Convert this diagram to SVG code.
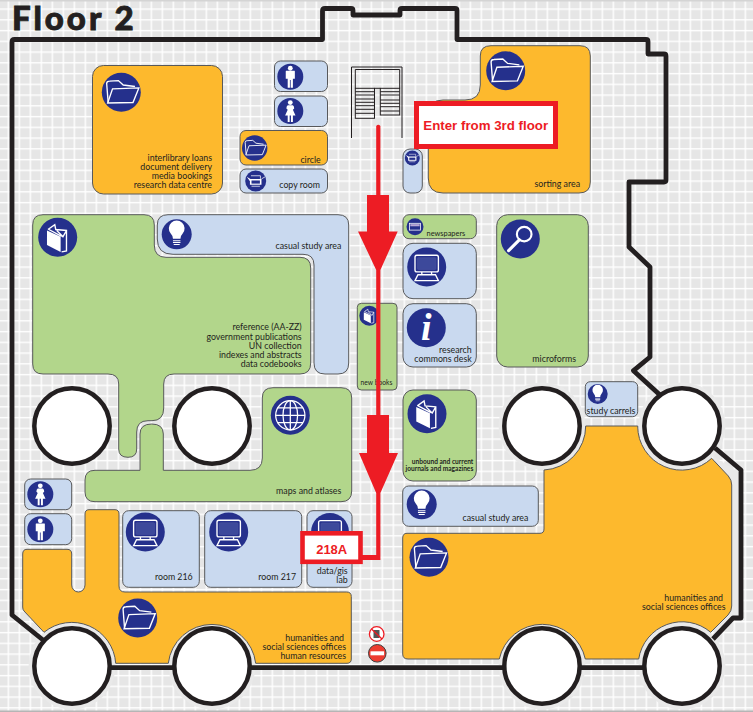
<svg xmlns="http://www.w3.org/2000/svg" width="753" height="712" viewBox="0 0 753 712">
<style>
text{font-family:"Lato","Liberation Sans",sans-serif;fill:#231f20;text-anchor:end;font-size:8.8px}
.o{fill:#fdb92d;stroke:#58595b;stroke-width:1}
.b{fill:#c9d9ef;stroke:#58595b;stroke-width:1}
.g{fill:#b2d68b;stroke:#58595b;stroke-width:1}
.wall{fill:none;stroke:#231f20;stroke-width:4.8;stroke-linejoin:round}
.col{fill:#fff;stroke:#231f20;stroke-width:4.5}
.halo{fill:#e9e9e9}
.st{fill:none;stroke:#231f20;stroke-width:1}
.red{fill:#ed1c24}
.redbox{fill:#fff;stroke:#ed1c24}
.rt{font-family:"Liberation Sans",Arial,sans-serif;font-weight:700;fill:#ed1c24;text-anchor:middle}
.iw{fill:#fff;stroke:none}
.il{fill:none;stroke:#fff;stroke-width:1.4}
</style>
<defs>
<pattern id="grid" width="11" height="10.75" patternUnits="userSpaceOnUse" x="7.6" y="8.4">
<rect width="11" height="10.75" fill="#e6e6e6"/>
<rect width="1.4" height="10.75" fill="#fff"/>
<rect width="11" height="1.4" fill="#fff"/>
</pattern>
<g id="i-folder"><circle r="20" fill="#25308c"/><path class="il" d="M-13.5,10 L-15,-9 Q-15,-11.5 -12,-11.5 L-3,-12 L2,-7.5 L14,-6"/><path class="il" d="M-9,-3.5 L18,-4.5 L12,10.5 L-14,11 Z"/></g>
<g id="i-man"><circle r="20" fill="#25308c"/><circle class="iw" cy="-13" r="3.7"/><path class="iw" d="M-6.5,-9 H6.500 Q7,-9 7,-8 V3 H4 V17 H0.600 V5 H-0.600 V17 H-4 V3 H-7 V-8 Q-7,-9 -6.500,-9 Z"/></g>
<g id="i-woman"><circle r="20" fill="#25308c"/><circle class="iw" cy="-13" r="3.7"/><path class="iw" d="M-4,-9 H4 Q6,-8 6,-4 L4,-2 L8,7 H4 V17 H1 V7 H-1 V17 H-4 V7 H-8 L-4,-2 L-6,-4 Q-6,-8 -4,-9 Z"/></g>
<g id="i-book"><circle r="20" fill="#25308c"/><path class="iw" d="M-11,-7 L3,-0.500 V15 L-11,8 Z"/><path class="il" d="M-10,-8 L-3,-13 L-2,-8 L9,-7 V14 L4,15 M4,-1 L-9,-8 M5,0 L9,-7 M-1,-7 L5,-1"/></g>
<g id="i-bulb"><circle r="20" fill="#25308c"/><path class="iw" d="M-5,6 Q-5,2 -8,-1 A10.500,10.500 0 1 1 8,-1 Q5,2 5,6 Z"/><path class="il" d="M-5,8.500 H5 M-5,11 H5 M-4,13.500 H4"/></g>
<g id="i-comp"><circle r="20" fill="#25308c"/><rect x="-12" y="-12" width="24" height="17" rx="2" fill="#25308c" stroke="#fff" stroke-width="1.400"/><rect x="-9.500" y="-9.500" width="19" height="12" rx="1" fill="#c9d9ef" opacity=".15" stroke="#fff" stroke-width=".7"/><path class="il" d="M-5,5 V8 M5,5 V8 M-9,8 H9 L12,14 H-12 Z"/></g>
<g id="i-mag"><circle r="20" fill="#25308c"/><circle cx="4" cy="-5" r="7.500" fill="none" stroke="#fff" stroke-width="2.200"/><path d="M-1,1 L-12,12" stroke="#fff" stroke-width="3.200" stroke-linecap="round"/></g>
<g id="i-globe"><circle r="20" fill="#25308c"/><g fill="none" stroke="#fff" stroke-width="1.300"><circle r="15"/><ellipse rx="7.500" ry="15"/><path d="M0,-15 V15 M-15,0 H15 M-13,-7.500 H13 M-13,7.500 H13"/></g></g>
<g id="i-copy"><circle r="20" fill="#25308c"/><path class="iw" d="M-11,-4 H11 V7 H-11 Z M-17,-8 L-10,-4 V2 Z"/><path d="M-8,-1 H8 V5 H-8 Z" fill="#25308c"/><path class="il" d="M-9,-10 H9 V-4 M11,-4 L18,-8 M-8,10 H8"/></g>
<g id="i-news"><circle r="20" fill="#25308c"/><rect x="-13" y="-8" width="26" height="16" fill="#25308c" stroke="#fff" stroke-width="1.800"/><rect x="-11" y="-6" width="22" height="5" fill="#b9a9d6"/></g>
</defs>

<rect width="753" height="712" fill="url(#grid)"/>
<rect width="753" height="1.500" fill="#d4d4d4"/>
<rect y="710.500" width="753" height="1.500" fill="#b5b5b5"/>

<g id="floor-halos">
<circle class="halo" cx="72" cy="666" r="43.500"/>
<circle class="halo" cx="212" cy="666" r="43.500"/>
<circle class="halo" cx="542" cy="426" r="43.500"/>
<circle class="halo" cx="682" cy="426" r="43.500"/>
<circle class="halo" cx="542" cy="666" r="43.500"/>
<circle class="halo" cx="682" cy="666" r="43.500"/>
<path class="halo" d="M712,456 L739,472 V616 L712,636 L728,610 V480 Z"/>
</g>

<g id="walls">
<path class="wall" d="M43,640 L12,615 V42 Q12,39.500 14.500,39.500 H322.500 V11 Q322.500,8.500 325,8.500 H351 Q353,8.500 353,10.500 V15 H400 V10.500 Q400,8.500 402,8.500 H455 Q457,8.500 457,10.500 V39.500 H646 Q648,39.500 648,41.500 V54 H664 Q666,54 666,56 V180 Q666,182 664,182 H629 V247 L650,267 V357 L633.500,370.700 L660,395"/>
<path class="wall" d="M715,448 L741,470 V618 H733 L713,639"/>
<path class="wall" d="M72,667.700 H682"/>
</g>

<g id="stairs">
<path class="st" d="M351.500,138 V67 H402 V138"/>
<path class="st" d="M355.300,88.300 V69.500 H399.700 V88.300"/>
<rect class="st" x="355.300" y="88.300" width="19.200" height="30"/>
<rect class="st" x="380.300" y="88.300" width="19.400" height="26.700"/>
<path class="st" d="M374.500,88.300 H380.300 M355.300,91.700 H374.500 M355.300,95 H374.500 M355.300,99 H374.500 M355.300,102.300 H374.500 M355.300,105.700 H374.500 M355.300,109.300 H374.500 M355.300,113.300 H374.500 M380.300,91.700 H399.700 M380.300,95 H399.700 M380.300,100 H399.700 M380.300,103.300 H399.700 M380.300,106.700 H399.700 M380.300,111 H399.700"/>
</g>

<g id="column-circles">
<circle class="col" cx="72" cy="666" r="37.700"/>
<circle class="col" cx="212" cy="666" r="37.700"/>
<circle class="col" cx="72" cy="426" r="37.700"/>
<circle class="col" cx="212" cy="426" r="37.700"/>
<circle class="col" cx="542" cy="426" r="37.700"/>
<circle class="col" cx="682" cy="426" r="37.700"/>
<circle class="col" cx="542" cy="666" r="37.700"/>
<circle class="col" cx="682" cy="666" r="37.700"/>
</g>

<g id="interlibrary">
<rect class="o" x="92.500" y="65.500" width="130" height="128.500" rx="11"/>
<use href="#i-folder" transform="translate(121.300,92.300) scale(.975)"/>
<text x="212" y="160.500">interlibrary loans</text>
<text x="212" y="169.500">document delivery</text>
<text x="212" y="178.500">media bookings</text>
<text x="212" y="188">research data centre</text>
</g>
<g id="men-top"><rect class="b" x="274.500" y="61" width="53" height="30.500" rx="6"/><use href="#i-man" transform="translate(290.300,76.700) scale(.65)"/></g>
<g id="women-top"><rect class="b" x="274.500" y="96" width="53" height="30.500" rx="6"/><use href="#i-woman" transform="translate(290.300,111) scale(.65)"/></g>
<g id="circle"><rect class="o" x="240" y="130.500" width="87.500" height="34.500" rx="6"/><use href="#i-folder" transform="translate(254.700,148) scale(.635)"/><text x="320.700" y="163">circle</text></g>
<g id="copy-room"><rect class="b" x="240" y="169" width="87.500" height="24" rx="6"/><use href="#i-copy" transform="translate(255.700,181) scale(.525)"/><text x="320" y="187.500">copy room</text></g>

<g id="sorting-area">
<path class="o" d="M491,45.700 H580 Q590.300,45.700 590.300,56 V182 Q590.300,193 579,193 H443 Q428.300,193 428.300,178 V115 Q428.300,100 443,100 H465 Q480.300,100 480.300,85 V56 Q480.300,45.700 491,45.700 Z"/>
<use href="#i-folder" transform="translate(505.700,70.700) scale(.975)"/>
<text x="580" y="186.500">sorting area</text>
</g>
<g id="copy-small"><rect class="b" x="403" y="149" width="19.300" height="44" rx="7"/><use href="#i-copy" transform="translate(412.300,158) scale(.375)"/></g>

<g id="reference">
<path class="g" d="M43,214.700 H144 Q154.300,214.700 154.300,225 V245 Q154.300,257.300 166,257.300 H300 Q310.700,257.300 310.700,268 V363 Q310.700,374 300,374 H174 Q163.700,374 163.700,384 V408 Q163.700,420.700 152,420.700 H148 Q136.700,420.700 136.700,432 V449 Q136.700,457.300 128,457.300 Q118.700,457.300 118.700,449 V384 Q118.700,374 108,374 H43 Q32.700,374 32.700,364 V225 Q32.700,214.700 43,214.700 Z"/>
<use href="#i-book" transform="translate(57.700,237.300) scale(.975)"/>
<text x="301.700" y="330">reference (AA-ZZ)</text>
<text x="301.700" y="339.500">government  publications</text>
<text x="301.700" y="348.500">UN collection</text>
<text x="301.700" y="357.500">indexes and abstracts</text>
<text x="301.700" y="366.500">data codebooks</text>
</g>
<g id="casual-study-1">
<path class="b" d="M168,214.700 H338 Q348.700,214.700 348.700,225 V363 Q348.700,374 338,374 H325 Q314,374 314,363 V265 Q314,254.300 303,254.300 H173 Q157.300,254.300 157.300,239 V225 Q157.300,214.700 168,214.700 Z"/>
<use href="#i-bulb" transform="translate(176.700,234.300) scale(.75)"/>
<text x="341.300" y="248.500">casual study area</text>
</g>
<g id="maps-atlases">
<path class="g" d="M273,387.700 H341 Q351.700,387.700 351.700,398 V491 Q351.700,501.700 341,501.700 H95 Q85,501.700 85,492 V480 Q85,470.300 95,470.300 H140 V434 Q140,424 151.700,424 Q163.300,424 163.300,434 V470.300 H250 Q262.300,470.300 262.300,458 V398 Q262.300,387.700 273,387.700 Z"/>
<use href="#i-globe" transform="translate(290.300,415.300) scale(.975)"/>
<text x="341.300" y="494">maps and atlases</text>
</g>
<g id="women-left"><rect class="b" x="24.700" y="479" width="47" height="30.700" rx="6"/><use href="#i-woman" transform="translate(40.300,494.300) scale(.65)"/></g>
<g id="men-left"><rect class="b" x="24.700" y="513.700" width="47" height="31" rx="6"/><use href="#i-man" transform="translate(40.300,529.300) scale(.65)"/></g>

<g id="humanities-left">
<path class="o" d="M27,549.300 H67 Q71.700,549.300 71.700,554 V585 A6.650,7 0 0 0 85,585 V514 Q85,509.700 89,509.700 H115 Q119,509.700 119,514 V586 Q119,592 125,592 H346.700 Q351.300,592 351.300,596.500 V659 Q351.300,663.300 347,663.300 H255.700 A44,44 0 0 0 168.300,663.300 H115.700 A44,44 0 0 0 44,632.300 L24,611 Q22.700,609.500 22.700,607 V554 Q22.700,549.300 27,549.300 Z"/>
<use href="#i-folder" transform="translate(137.700,618) scale(.975)"/>
<text x="344" y="640.500">humanities and</text>
<text x="346" y="649.500">social sciences offices</text>
<text x="346" y="658.500">human resources</text>
</g>
<g id="room-216"><rect class="b" x="122.700" y="510.700" width="76.600" height="76.600" rx="6"/><use href="#i-comp" transform="translate(145.300,532) scale(.975)"/><text x="192.700" y="579.500">room 216</text></g>
<g id="room-217"><rect class="b" x="204.700" y="510.700" width="97" height="76.600" rx="6"/><use href="#i-comp" transform="translate(228.700,532) scale(.975)"/><text x="296" y="579.500">room 217</text></g>
<g id="data-gis-lab"><rect class="b" x="307" y="510.700" width="45" height="76.600" rx="6"/><use href="#i-comp" transform="translate(330,532) scale(.95)"/><text x="347.700" y="573.500">data/gis</text><text x="347.700" y="582.500">lab</text></g>

<g id="newspapers"><rect class="g" x="403" y="214.700" width="73.300" height="24" rx="6"/><use href="#i-news" transform="translate(415,226.700) scale(.425)"/><text x="465.300" y="235.500" style="font-size:7.400px">newspapers</text></g>
<g id="computers"><rect class="b" x="403" y="243.300" width="73.300" height="55.400" rx="10"/><use href="#i-comp" transform="translate(426.700,267) scale(.975)"/></g>
<g id="research-commons-desk">
<rect class="b" x="403" y="303.700" width="73.300" height="63.300" rx="10"/>
<circle cx="426.300" cy="327.700" r="19.500" fill="#25308c"/>
<text x="426.300" y="340" style="font-family:'Liberation Serif',serif;font-weight:700;font-style:italic;font-size:38px;fill:#fff;text-anchor:middle">i</text>
<text x="471.700" y="353">research</text>
<text x="471.700" y="362">commons desk</text>
</g>
<g id="microforms"><rect class="g" x="496.700" y="214.700" width="91.600" height="152.300" rx="11"/><use href="#i-mag" transform="translate(520.300,239) scale(.975)"/><text x="576" y="361.500">microforms</text></g>
<g id="new-books"><rect class="g" x="357.300" y="303.300" width="39.700" height="86.700" rx="4"/><use href="#i-book" transform="translate(369.300,315.700) scale(.5)"/><text x="392.300" y="385" style="font-size:6.700px">new books</text></g>
<g id="unbound"><rect class="g" x="403" y="390" width="73.300" height="91" rx="10"/><use href="#i-book" transform="translate(427,413.700) scale(.975)"/><text x="473.300" y="464" style="font-size:6.600px;font-weight:700">unbound and current</text><text x="473.300" y="471" style="font-size:6.600px;font-weight:700">journals and magazines</text></g>
<g id="study-carrels"><rect class="b" x="585.300" y="381.700" width="52.400" height="35" rx="5"/><use href="#i-bulb" transform="translate(597.700,394) scale(.5)"/><text x="635.300" y="414">study carrels</text></g>
<g id="casual-study-2"><rect class="b" x="402.700" y="486" width="135.600" height="40.300" rx="6"/><use href="#i-bulb" transform="translate(421.700,504.300) scale(.75)"/><text x="528.300" y="520.500">casual study area</text></g>
<g id="humanities-right">
<path class="o" d="M407,533.300 H540 Q544,533.300 544,529 V470 A44,44 0 0 0 585.700,426 H637.700 A44,44 0 0 0 711.700,458.300 L728.300,476 Q731.700,480 731.700,485 V606 Q731.700,611 728,615 L710.700,632.300 A44,44 0 0 0 638.700,659 H585.300 A44,44 0 0 0 499.300,659 H408 Q402.700,659 402.700,654 V538 Q402.700,533.300 407,533.300 Z"/>
<use href="#i-folder" transform="translate(429,557.300) scale(.975)"/>
<text x="723" y="600.500">humanities and</text>
<text x="725.500" y="609.500">social sciences offices</text>
</g>
<g id="no-pen"><circle cx="376.700" cy="634" r="7.300" fill="#fff" stroke="#ed1c24" stroke-width="1.300"/><rect x="373.500" y="630" width="6" height="8" fill="#555"/><path d="M371.500,629 L382,639" stroke="#ed1c24" stroke-width="1.300"/></g>
<g id="no-entry"><circle cx="377.300" cy="653.300" r="8.800" fill="#ed3b30" stroke="#3f3f3f" stroke-width="1"/><rect x="370.500" y="651.300" width="13.600" height="4" fill="#fff"/></g>

<g id="connectors">
<path class="red" d="M376.200,126 Q378.300,123.500 380.400,126 V195 H389 V231.500 H397.700 L380.400,270 V415 H389 V453 H398 L380.400,493 V560 H362 V555 H376.200 V493 L359,453 H367 V415 H376.200 V270 L358,231.500 H367 V195 H376.200 Z"/>
</g>
<g id="label-enter">
<rect class="redbox" x="416.500" y="103.500" width="139" height="43" stroke-width="5"/>
<text class="rt" x="485.700" y="130" style="font-size:13.300px;fill:#ed1c24;text-anchor:middle">Enter from 3rd floor</text>
</g>
<g id="label-218a">
<rect class="redbox" x="302.500" y="533.300" width="58" height="28.500" stroke-width="4.600"/>
<text class="rt" x="331.700" y="554" style="font-size:13px;fill:#ed1c24;text-anchor:middle">218A</text>
</g>
<g id="title"><text x="12" y="29.500" style="font-size:33px;font-weight:900;text-anchor:start;letter-spacing:3px;stroke:#231f20;stroke-width:.9px">Floor 2</text></g>
</svg>
